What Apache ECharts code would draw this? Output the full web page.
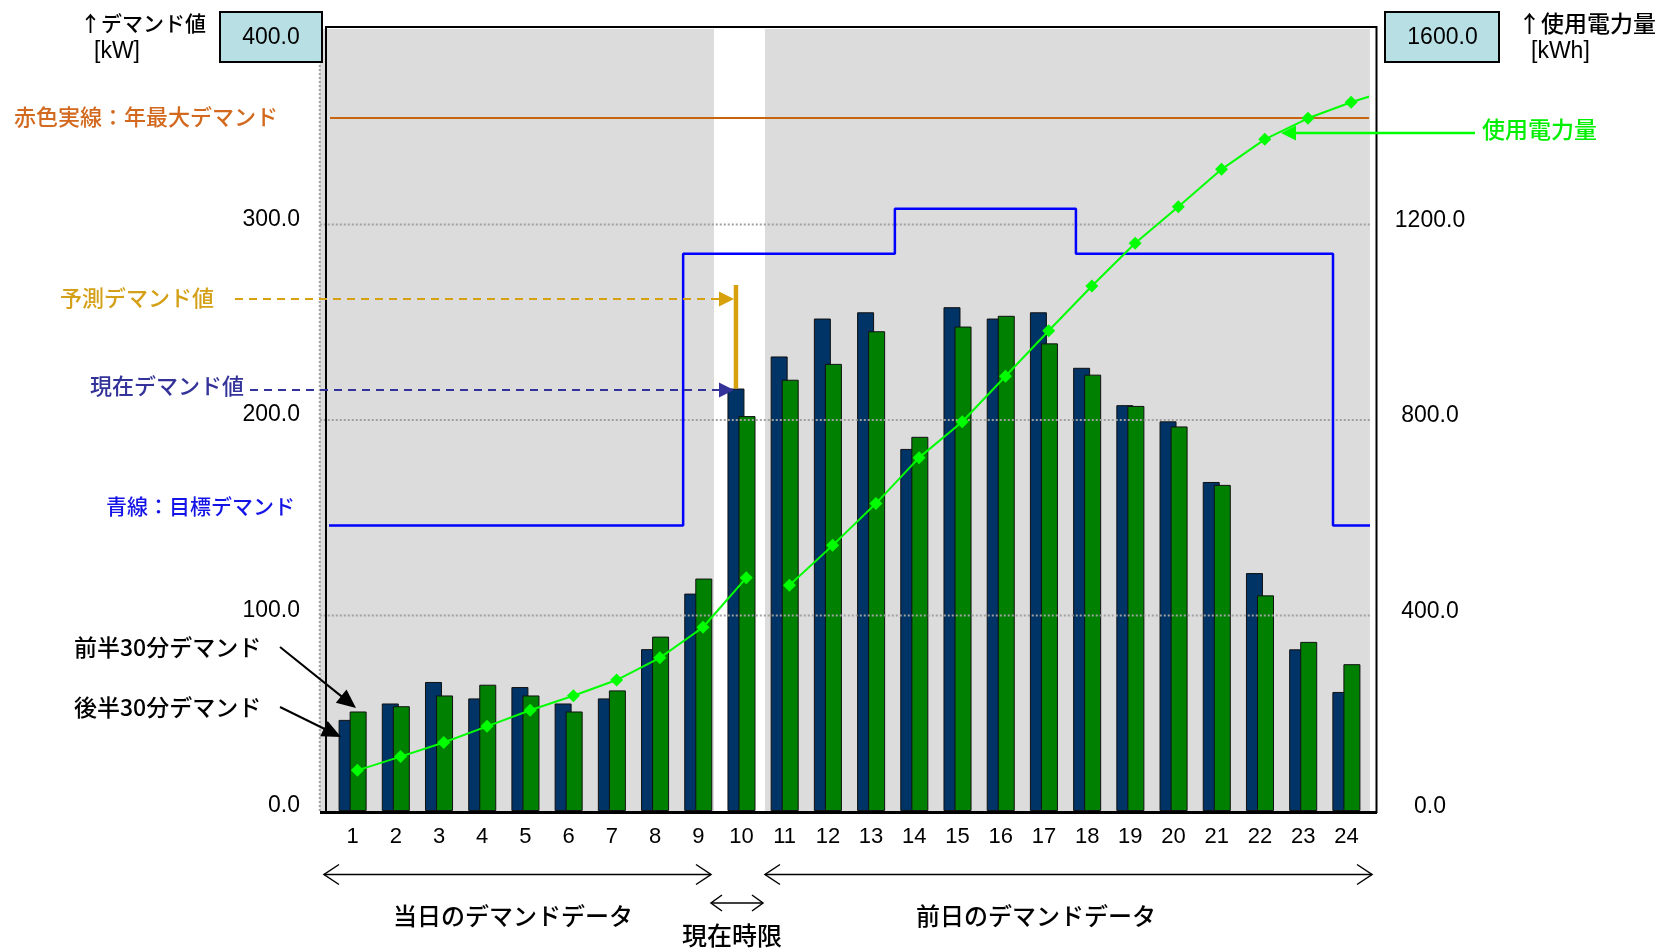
<!DOCTYPE html>
<html>
<head>
<meta charset="utf-8">
<script src="https://cdn.jsdelivr.net/npm/echarts@6/dist/echarts.min.js"></script>
<style>
  html, body { margin: 0; padding: 0; background: #fff; }
  #chart { width: 1666px; height: 950px; }
</style>
</head>
<body>
<div id="chart"></div>
<script>
// ---- data ----
const hours = ['1','2','3','4','5','6','7','8','9','10','11','12','13','14','15','16','17','18','19','20','21','22','23','24'];
// 30-minute demand [kW]: first half / second half of each hour
const firstHalfDemand  = [46.6, 55.0, 66.0, 57.6, 63.4, 55.0, 57.6, 82.8, 111.2, 216.1, 232.5, 251.9, 255.1, 185.2, 257.7, 251.9, 255.1, 226.7, 207.6, 199.3, 168.3, 121.7, 82.7, 60.9];
const secondHalfDemand = [50.9, 53.6, 59.1, 64.6, 59.1, 50.9, 61.7, 89.2, 118.9, 202.0, 220.6, 228.7, 245.4, 191.4, 247.8, 253.3, 239.2, 223.2, 207.2, 196.7, 166.8, 110.3, 86.5, 75.1];
// cumulative energy [kWh]: today (hours 1-10) and previous day (hours 11-25)
const todayEnergy     = [83.2, 111.3, 140.2, 173.2, 206.2, 235.7, 268.0, 313.4, 376.0, 477.0];
const yesterdayEnergy = [462.0, 543.5, 629.0, 723.0, 796.5, 889.5, 982.7, 1074.2, 1161.5, 1236.4, 1312.9, 1374.3, 1417.3, 1450.0, 1478.0];
const todayStartHour = 1;
const yesterdayStartHour = 11;
// axis ticks
const demandTicks = [0, 100, 200, 300, 400];
const energyTicks = [0, 400, 800, 1200, 1600];
// reference levels [kW]
const annualMaxDemand = 354.5;
const predictedDemand = 269;
const currentPeriod = 10;
// target demand: step break positions (in hour units) and levels
const targetBreaks = [0.22, 8.65, 13.55, 17.74, 23.69, 24.55];
const targetLevels = [146, 285, 308, 285, 146];
// shaded plot spans (in hour units); the current period is left unshaded
const shadedSpans = [[0.24, 9.364], [10.544, 24.545]];

// ---- layout ----
const GRID = { left: 331, right: 298, top: 29, bottom: 139 };
const GRID_W = 1666 - GRID.left - GRID.right;
const PITCH = GRID_W / hours.length;
const BAR_W = 17;
const BAR_GAP = -0.35;
const NAVY_SHIFT = -(BAR_W * (1 + BAR_GAP)) / 2 / PITCH;
const LINE_SHIFT = 0.11;
const PLOT_X0 = 0.24, PLOT_X1 = 24.545;
const yMax = demandTicks[demandTicks.length - 1];
const eMax = energyTicks[energyTicks.length - 1];

const JP = '"Noto Sans CJK JP", sans-serif';
const NUM = '"Liberation Sans", Arial, sans-serif';

const targetData = [];
targetLevels.forEach((lv, i) => {
  targetData.push([targetBreaks[i], lv], [targetBreaks[i + 1], lv]);
});

function fmt(v) { return v.toFixed(1); }

// ---- annotation helpers ----
function headPoints(tx, ty, fx, fy, len, half) {
  const dx = tx - fx, dy = ty - fy, d = Math.hypot(dx, dy);
  const ux = dx / d, uy = dy / d;
  const bx = tx - ux * len, by = ty - uy * len;
  return [[tx, ty], [bx - uy * half, by + ux * half], [bx + uy * half, by - ux * half]];
}
function arrow(fx, fy, tx, ty, color, width, len, half, dash) {
  const d = Math.hypot(tx - fx, ty - fy);
  const ex = tx - (tx - fx) / d * (len - 2), ey = ty - (ty - fy) / d * (len - 2);
  return [
    { type: 'line', z: 100, shape: { x1: fx, y1: fy, x2: ex, y2: ey },
      style: { stroke: color, lineWidth: width, lineDash: dash || null } },
    { type: 'polygon', z: 100, shape: { points: headPoints(tx, ty, fx, fy, len, half) },
      style: { fill: color } }
  ];
}
function openArrow(x1, x2, y, hx, hy) {
  return [
    { type: 'line', z: 100, shape: { x1: x1, y1: y, x2: x2, y2: y }, style: { stroke: '#000', lineWidth: 1.5 } },
    { type: 'polyline', z: 100, shape: { points: [[x1 + hx, y - hy], [x1, y], [x1 + hx, y + hy]] }, style: { stroke: '#000', lineWidth: 1.5, fill: null } },
    { type: 'polyline', z: 100, shape: { points: [[x2 - hx, y - hy], [x2, y], [x2 - hx, y + hy]] }, style: { stroke: '#000', lineWidth: 1.5, fill: null } }
  ];
}
function label(text, x, y, color, size, align, font) {
  const weight = font ? '' : '500 ';
  return { type: 'text', z: 100, x: x, y: y,
    style: { text: text, fill: color, font: weight + size + 'px ' + (font || JP), textAlign: align || 'left', textVerticalAlign: 'middle' } };
}
function box(x, y, w, h, text, cx, cy) {
  return [
    { type: 'rect', z: 100, shape: { x: x, y: y, width: w, height: h }, style: { fill: '#b8e0e4', stroke: '#000', lineWidth: 2 } },
    label(text, cx, cy, '#000', 23, 'center', NUM)
  ];
}

const graphics = [].concat(
  // plot frame and base line
  [{ type: 'rect', z: 50, shape: { x: 326, y: 27, width: 1050.5, height: 785 }, style: { fill: null, stroke: '#000', lineWidth: 2 } },
   { type: 'line', z: 50, shape: { x1: 320, y1: 812.5, x2: 1377, y2: 812.5 }, style: { stroke: '#000', lineWidth: 3 } }],
  // axis titles and top values
  [label('↑デマンド値', 80, 23, '#000', 21, 'left'),
   label('[kW]', 94, 52, '#000', 23, 'left', NUM),
   label('↑使用電力量', 1518, 23, '#000', 23, 'left'),
   label('[kWh]', 1531, 52, '#000', 23, 'left', NUM)],
  box(220, 12, 102, 50, fmt(yMax), 271, 37.5),
  box(1385, 12, 114, 50, fmt(eMax), 1442.5, 37.5),
  // legend-like annotations
  [label('赤色実線：年最大デマンド', 14, 117, '#d2691e', 22, 'left')],
  [label('予測デマンド値', 60, 298, '#d4a017', 22, 'left')],
  arrow(235, 299, 734, 299, '#d6a10d', 2, 15, 7.5, [8, 6]),
  [label('現在デマンド値', 90, 386, '#333399', 22, 'left')],
  arrow(250, 390, 734, 390, '#333399', 2, 15, 7.5, [8, 6]),
  [label('青線：目標デマンド', 106, 506, '#1414e6', 21, 'left')],
  [label('前半30分デマンド', 74, 647, '#000', 23, 'left')],
  arrow(280, 647, 356, 708, '#000', 2, 19, 8.5),
  [label('後半30分デマンド', 74, 707, '#000', 23, 'left')],
  arrow(280, 707, 341, 737, '#000', 2, 19, 8.5),
  [label('使用電力量', 1482, 129, '#00ee00', 23, 'left')],
  arrow(1475, 133, 1281, 133, '#00ff00', 2.5, 15, 7.5),
  // period annotations below the axis
  openArrow(324, 711, 874.5, 15, 10),
  openArrow(711, 763, 903, 11, 8),
  openArrow(765, 1372, 874.5, 15, 10),
  [label('当日のデマンドデータ', 513, 916, '#000', 24, 'center'),
   label('現在時限', 732, 935, '#000', 25, 'center'),
   label('前日のデマンドデータ', 1036, 916, '#000', 24, 'center')]
);

const chart = echarts.init(document.getElementById('chart'), null, { renderer: 'canvas' });
chart.setOption({
  animation: false,
  backgroundColor: '#fff',
  textStyle: { fontFamily: NUM },
  grid: { left: GRID.left, right: GRID.right, top: GRID.top, bottom: GRID.bottom, containLabel: false },
  xAxis: [
    { type: 'category', gridIndex: 0, data: hours, boundaryGap: true,
      axisLine: { show: false }, axisTick: { show: false }, splitLine: { show: false },
      axisLabel: { fontSize: 22, color: '#000', margin: 15, fontFamily: NUM, interval: 0 } },
    { type: 'value', gridIndex: 0, min: 0.5, max: 24.5, show: false, splitLine: { show: false } }
  ],
  yAxis: [
    { type: 'value', min: 0, max: yMax, interval: 100, position: 'left',
      axisLine: { show: false }, axisTick: { show: false }, splitLine: { show: false },
      axisLabel: { formatter: v => (v === yMax ? '' : fmt(v)), fontSize: 23, color: '#000', margin: 31,
        fontFamily: NUM, verticalAlign: 'bottom', lineHeight: 10 } },
    { type: 'value', min: 0, max: eMax, interval: 400, position: 'right',
      axisLine: { show: false }, axisTick: { show: false }, splitLine: { show: false },
      axisLabel: { formatter: v => (v === eMax ? '' : fmt(v)), fontSize: 23, color: '#000', margin: 62,
        align: 'center', fontFamily: NUM, verticalAlign: 'bottom', lineHeight: 8 } }
  ],
  series: [
    { name: 'plotBackground', type: 'custom', xAxisIndex: 1, yAxisIndex: 0, z: 0, silent: true,
      data: shadedSpans,
      renderItem: (params, api) => {
        const a = api.coord([api.value(0), yMax]);
        const b = api.coord([api.value(1), 0]);
        return { type: 'rect', shape: { x: a[0], y: a[1], width: b[0] - a[0], height: b[1] - a[1] }, style: { fill: '#dcdcdc' } };
      } },
    { name: 'firstHalf', type: 'bar', xAxisIndex: 0, yAxisIndex: 0, data: firstHalfDemand,
      barWidth: BAR_W, barGap: (BAR_GAP * 100) + '%', z: 2,
      itemStyle: { color: '#003366', borderColor: '#111', borderWidth: 1 } },
    { name: 'secondHalf', type: 'bar', xAxisIndex: 0, yAxisIndex: 0, data: secondHalfDemand,
      barWidth: BAR_W, barGap: (BAR_GAP * 100) + '%', z: 2,
      itemStyle: { color: '#008000', borderColor: '#111', borderWidth: 1 } },
    { name: 'gridLines', type: 'custom', xAxisIndex: 1, yAxisIndex: 0, z: 3, silent: true,
      data: demandTicks.slice(1, -1).map(v => [v]),
      renderItem: (params, api) => {
        const v = api.value(0);
        const p0 = api.coord([PLOT_X0, v]), p1 = api.coord([PLOT_X1, v]);
        const dotted = { stroke: '#a0a0a0', lineWidth: 2, lineDash: [2, 2] };
        const children = [{ type: 'line', shape: { x1: p0[0], y1: p0[1], x2: p1[0], y2: p1[1] }, style: dotted }];
        if (params.dataIndex === 0) {
          const t = api.coord([PLOT_X0, yMax]), b = api.coord([PLOT_X0, 0]);
          children.push({ type: 'line', shape: { x1: t[0], y1: t[1], x2: b[0], y2: b[1] }, style: dotted });
        }
        return { type: 'group', children: children };
      } },
    { name: 'target', type: 'line', xAxisIndex: 1, yAxisIndex: 0, z: 4, clip: false, silent: true,
      data: targetData, symbol: 'none', lineStyle: { color: '#0000ff', width: 2.5 } },
    { name: 'annualMax', type: 'line', xAxisIndex: 1, yAxisIndex: 0, z: 4, clip: false, silent: true,
      data: [[PLOT_X0 - 0.02, annualMaxDemand], [PLOT_X1, annualMaxDemand]], symbol: 'none',
      lineStyle: { color: '#c8640f', width: 2 } },
    { name: 'predicted', type: 'line', xAxisIndex: 1, yAxisIndex: 0, z: 6, silent: true,
      data: [[currentPeriod + NAVY_SHIFT, firstHalfDemand[currentPeriod - 1]], [currentPeriod + NAVY_SHIFT, predictedDemand]],
      symbol: 'none', lineStyle: { color: '#d6a10d', width: 4.5 } },
    { name: 'todayEnergy', type: 'line', xAxisIndex: 1, yAxisIndex: 1, z: 5, silent: true,
      data: todayEnergy.map((v, i) => [todayStartHour + i + LINE_SHIFT, v]),
      symbol: 'diamond', symbolSize: 13, itemStyle: { color: '#00ff00' }, lineStyle: { color: '#00ff00', width: 2 } },
    { name: 'yesterdayEnergy', type: 'line', xAxisIndex: 1, yAxisIndex: 1, z: 5, clip: true, silent: true,
      data: yesterdayEnergy.map((v, i) => [yesterdayStartHour + i + LINE_SHIFT, v]),
      symbol: 'diamond', symbolSize: 13, itemStyle: { color: '#00ff00' }, lineStyle: { color: '#00ff00', width: 2 } }
  ],
  graphic: graphics
});
</script>
</body>
</html>
